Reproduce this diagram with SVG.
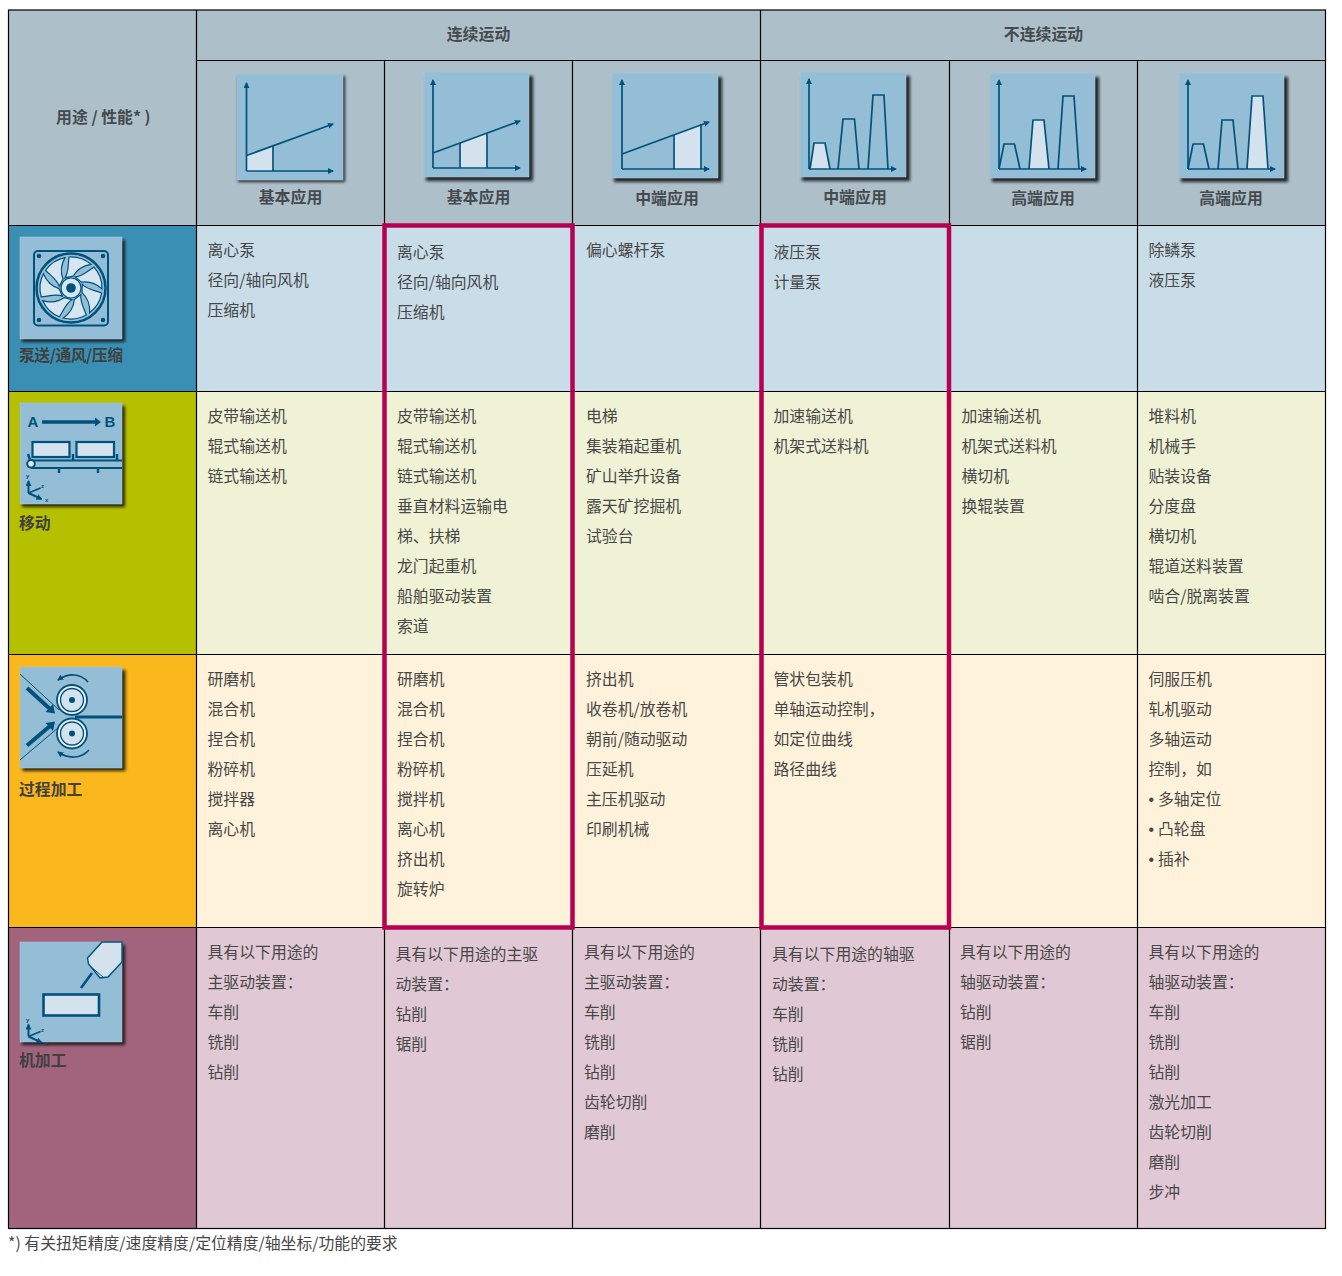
<svg xmlns="http://www.w3.org/2000/svg" xmlns:xlink="http://www.w3.org/1999/xlink" width="1342" height="1276" viewBox="0 0 1342 1276">
<style>
text{font-family:"Noto Sans CJK SC","Noto Sans",sans-serif;font-size:15.85px;fill:#474747}
.h{font-weight:700;font-size:15.9px;fill:#454a4e}
.m{text-anchor:middle}
.l{font-weight:700;fill:#40403f}
.g{fill:#adbfc9}
.gl{stroke:#000;stroke-width:1.2;fill:none}
.ic{fill:#94bdd6;stroke:#a8c8da;stroke-width:.6}
.sh{fill:#111;filter:url(#b);opacity:.85}
.a{fill:none;stroke:#00527c;stroke-width:1.7}
.ar{fill:none;stroke:#00527c;stroke-width:1.7;marker-end:url(#ah)}
.f{fill:#d3e2ed;stroke:#f2f7fb;stroke-width:.8}
.t{font-family:"Liberation Sans",sans-serif;font-size:6px;fill:#00527c;font-weight:700}
.big{font-family:"Liberation Sans",sans-serif;font-size:15px;fill:#00527c;font-weight:700;text-anchor:middle}
.d{fill:#00527c}
</style>
<defs>
<filter id="b" x="-20%" y="-20%" width="140%" height="140%"><feGaussianBlur stdDeviation="1.8"/></filter>
<marker id="ah" markerWidth="8" markerHeight="8" refX="5" refY="3" orient="auto" markerUnits="userSpaceOnUse"><path d="M0,0L6,3L0,6Z" fill="#00527c"/></marker>
<path id="blade" d="M-6,-10.200C-2,-16-3,-25-2,-31A31,31 0 0 1 20,-23.700C10,-22 5,-17 2,-11.800Z" fill="#d6e6f0" stroke="#00527c" stroke-width="1.200"/>
<g id="axes3"><path class="ar" style="stroke-width:2" d="M0,0V-12"/><path class="ar" style="stroke-width:2" d="M0,0L13,6"/><path class="a" d="M0,0L12,-5"/></g>
</defs>
<rect width="1342" height="1276" fill="#fff"/>

<g id="fills">
<rect class="g" x="8.500" y="10" width="1317" height="215.500"/>
<rect x="8.500" y="225.500" width="188" height="166" fill="#3a90b4"/>
<rect x="196.500" y="225.500" width="1129" height="166" fill="#c9dde9"/>
<rect x="8.500" y="391.500" width="188" height="263" fill="#b5c000"/>
<rect x="196.500" y="391.500" width="1129" height="263" fill="#eff2d5"/>
<rect x="8.500" y="654.500" width="188" height="273" fill="#fab81c"/>
<rect x="196.500" y="654.500" width="1129" height="273" fill="#fff2da"/>
<rect x="8.500" y="927.500" width="188" height="301" fill="#a2637d"/>
<rect x="196.500" y="927.500" width="1129" height="301" fill="#e0c9d4"/>
</g>
<g id="grid" class="gl">
<rect x="8.500" y="10" width="1317" height="1218.500"/>
<path d="M196.500,10V1228.500M384.500,60.500V1228.500M572.500,60.500V1228.500M760.500,10V1228.500M949.500,60.500V1228.500M1137.500,60.500V1228.500"/>
<path d="M196.500,60.500H1325.500M8.500,225.500H1325.500M8.500,391.500H1325.500M8.500,654.500H1325.500M8.500,927.500H1325.500"/>
</g>

<g id="headers">
<text class="h m" x="478.500" y="40">连续运动</text>
<text class="h m" x="1043.500" y="40">不连续运动</text>
<text class="h" x="56" y="123">用途 / 性能* )</text>
</g>

<g id="chart-1">
<rect class="sh" x="238" y="76" width="107" height="106"/>
<rect class="ic" x="237" y="74" width="106" height="106"/>
<path class="f" d="M247,155.500L273,146V170.500H247Z"/>
<path class="a" d="M273,146V171"/>
<path class="ar" d="M246.500,171V83"/><path class="ar" d="M246.500,171H333"/><path class="ar" d="M246.500,155.500L333,124"/>
<text class="h m" x="290.500" y="203">基本应用</text>
</g>
<g id="chart-2">
<rect class="sh" x="426" y="76" width="107" height="105"/>
<rect class="ic" x="424" y="72" width="105" height="105"/>
<path class="f" d="M460,143L487,134V168H460Z"/>
<path class="a" d="M460,143V168M487,134V168"/>
<path class="ar" d="M433,168V80"/><path class="ar" d="M433,168H520"/><path class="ar" d="M433,153L520,121"/>
<text class="h m" x="478.500" y="203">基本应用</text>
</g>
<g id="chart-3">
<rect class="sh" x="614" y="77" width="108" height="105"/>
<rect class="ic" x="612" y="73" width="106" height="105"/>
<path class="f" d="M674,135L701,125V169H674Z"/>
<path class="a" d="M674,135V169M701,124V169"/>
<path class="ar" d="M622,169V80"/><path class="ar" d="M622,169H709"/><path class="ar" d="M622,154L709,122"/>
<text class="h m" x="667" y="204">中端应用</text>
</g>
<g id="chart-4">
<rect class="sh" x="802" y="76" width="108" height="105"/>
<rect class="ic" x="800" y="72" width="106" height="105"/>
<path class="f" d="M810,169L814,143H825L830,169Z"/>
<path class="a" d="M810,169L814,143H825L830,169M838,169L843,119H854.500L859,169M868,169L873,95H884L888,169"/>
<path class="ar" d="M809,169V79"/><path class="ar" d="M809,169H896"/>
<text class="h m" x="855" y="203">中端应用</text>
</g>
<g id="chart-5">
<rect class="sh" x="992" y="77" width="107" height="105"/>
<rect class="ic" x="990" y="73" width="105" height="105"/>
<path class="f" d="M1029,169L1033,120H1044L1049,169Z"/>
<path class="a" d="M999,169L1004,144H1014.500L1020,169M1029,169L1033,120H1044L1049,169M1058,169L1063,96H1074L1079,169"/>
<path class="ar" d="M999,169V80"/><path class="ar" d="M999,169H1086"/>
<text class="h m" x="1043" y="204">高端应用</text>
</g>
<g id="chart-6">
<rect class="sh" x="1181" y="77" width="107" height="105"/>
<rect class="ic" x="1179" y="73" width="105" height="105"/>
<path class="f" d="M1248,169L1252,96H1263L1268,169Z"/>
<path class="a" d="M1188,169L1193,144H1203.500L1209,169M1218,169L1222,120H1233L1238,169M1247,169L1252,96H1263L1268,169"/>
<path class="ar" d="M1188,169V80"/><path class="ar" d="M1188,169H1275"/>
<text class="h m" x="1231" y="204">高端应用</text>
</g>

<g id="row-pump">
<rect class="sh" x="22" y="240" width="103" height="102"/>
<rect class="ic" x="20" y="237" width="102" height="102"/>
<rect x="34" y="251" width="74" height="74.500" rx="4" fill="none" stroke="#00527c" stroke-width="2"/>
<circle class="d" cx="39" cy="256" r="2.300"/><circle class="d" cx="103" cy="256" r="2.300"/><circle class="d" cx="39" cy="320" r="2.300"/><circle class="d" cx="103" cy="320" r="2.300"/>
<circle cx="71" cy="288" r="34.500" fill="#94bdd6" stroke="#00527c" stroke-width="2.500"/>
<g transform="translate(71,288)">
<use xlink:href="#blade"/><use xlink:href="#blade" transform="rotate(51.430)"/><use xlink:href="#blade" transform="rotate(102.860)"/><use xlink:href="#blade" transform="rotate(154.290)"/><use xlink:href="#blade" transform="rotate(205.710)"/><use xlink:href="#blade" transform="rotate(257.140)"/><use xlink:href="#blade" transform="rotate(308.570)"/>
</g>
<circle cx="71" cy="288" r="10" fill="#d6e6f0" stroke="#00527c" stroke-width="1.200"/>
<circle class="d" cx="71" cy="288" r="4.800"/>
<text class="l" x="19" y="361" textLength="104" lengthAdjust="spacing">泵送/通风/压缩</text>
</g>

<g id="row-move">
<rect class="sh" x="22" y="406" width="103" height="101"/>
<rect class="ic" x="20" y="403" width="102" height="101"/>
<text class="big" x="33" y="427">A</text><text class="big" x="110" y="427">B</text>
<path d="M42,422H96" stroke="#00527c" stroke-width="3.500"/><path class="d" d="M95,417.500L101,422L95,426.500Z"/>
<rect x="32.500" y="442" width="37" height="15" fill="#d3e2ed" stroke="#00527c" stroke-width="2.200"/>
<rect x="76.500" y="442" width="37.500" height="15" fill="#d3e2ed" stroke="#00527c" stroke-width="2.200"/>
<path d="M31,460.500H122M31,468H122" fill="none" stroke="#00527c" stroke-width="2"/>
<path d="M73,454V460M117,454V460M59,468V473M98,468V473M28,454L30,460" fill="none" stroke="#00527c" stroke-width="2.400"/>
<circle cx="31" cy="463.800" r="3.800" fill="#e8f0f6" stroke="#00527c" stroke-width="2"/>
<g transform="translate(28.500,493)"><use xlink:href="#axes3"/></g>
<text class="t" x="26" y="478">y</text><text class="t" x="41" y="488">z</text><text class="t" x="45" y="502">x</text>
<text class="l" x="19" y="529">移动</text>
</g>

<g id="row-process">
<rect class="sh" x="22.500" y="670" width="103" height="101"/>
<rect class="ic" x="20" y="667" width="102" height="101"/>
<path d="M20,674L59,710M20,760L59,727" stroke="#00527c" stroke-width="1" fill="none"/>
<path d="M75,717H122" stroke="#00527c" stroke-width="3"/>
<path d="M27,688L50,709" stroke="#00527c" stroke-width="4"/><path class="d" d="M45.500,712L55,713.500L53,704Z"/>
<path d="M27,745.500L50,726" stroke="#00527c" stroke-width="4"/><path class="d" d="M45.500,723L55,721.500L53,731Z"/>
<g id="roller-top"><circle cx="72" cy="700" r="15" fill="#eaf2f7" stroke="#00527c" stroke-width="1.800"/><circle cx="72" cy="700" r="11.500" fill="#d3e2ed" stroke="#00527c" stroke-width="1.400"/><circle class="d" cx="72" cy="700" r="3"/></g>
<g id="roller-bottom"><circle cx="72" cy="733.500" r="15" fill="#eaf2f7" stroke="#00527c" stroke-width="1.800"/><circle cx="72" cy="733.500" r="11.500" fill="#d3e2ed" stroke="#00527c" stroke-width="1.400"/><circle class="d" cx="72" cy="733.500" r="3"/></g>
<path class="ar" d="M88,682C80,673 68,673 58,680"/>
<path class="ar" d="M89,750C81,759 68,759 58,752"/>
<text class="l" x="19" y="795">过程加工</text>
</g>

<g id="row-machining">
<rect class="sh" x="22" y="945" width="103" height="100"/>
<rect class="ic" x="20" y="942" width="102" height="100"/>
<path d="M81,988L92,973" stroke="#00527c" stroke-width="2.600"/>
<path d="M102,942L87.500,958L88.500,964L100,978L108,977L122,962V942Z" fill="#d3e2ed" stroke="#00527c" stroke-width="1.400"/>
<path d="M90,966L103,977" stroke="#00527c" stroke-width="1"/>
<rect x="43.500" y="994.500" width="55.500" height="21" fill="#d3e2ed" stroke="#00527c" stroke-width="2.600"/>
<g transform="translate(28.500,1036.500)"><use xlink:href="#axes3"/></g>
<text class="t" x="26" y="1022">y</text><text class="t" x="41" y="1032">z</text><text class="t" x="45" y="1046">x</text>
<text class="l" x="19" y="1066">机加工</text>
</g>

<g id="cells-pump">
<text x="207.500" y="256">离心泵</text><text x="207.500" y="286">径向/轴向风机</text><text x="207.500" y="316">压缩机</text>
<text x="397" y="258">离心泵</text><text x="397" y="288">径向/轴向风机</text><text x="397" y="318">压缩机</text>
<text x="586" y="256">偏心螺杆泵</text>
<text x="773.500" y="258">液压泵</text><text x="773.500" y="288">计量泵</text>
<text x="1148.500" y="256">除鳞泵</text><text x="1148.500" y="286">液压泵</text>
</g>
<g id="cells-move">
<text x="207.500" y="422">皮带输送机</text><text x="207.500" y="452">辊式输送机</text><text x="207.500" y="482">链式输送机</text>
<text x="397" y="422">皮带输送机</text><text x="397" y="452">辊式输送机</text><text x="397" y="482">链式输送机</text><text x="397" y="512">垂直材料运输电</text><text x="397" y="542">梯、扶梯</text><text x="397" y="572">龙门起重机</text><text x="397" y="602">船舶驱动装置</text><text x="397" y="632">索道</text>
<text x="586" y="422">电梯</text><text x="586" y="452">集装箱起重机</text><text x="586" y="482">矿山举升设备</text><text x="586" y="512">露天矿挖掘机</text><text x="586" y="542">试验台</text>
<text x="773.500" y="422">加速输送机</text><text x="773.500" y="452">机架式送料机</text>
<text x="961.500" y="422">加速输送机</text><text x="961.500" y="452">机架式送料机</text><text x="961.500" y="482">横切机</text><text x="961.500" y="512">换辊装置</text>
<text x="1148.500" y="422">堆料机</text><text x="1148.500" y="452">机械手</text><text x="1148.500" y="482">贴装设备</text><text x="1148.500" y="512">分度盘</text><text x="1148.500" y="542">横切机</text><text x="1148.500" y="572">辊道送料装置</text><text x="1148.500" y="602">啮合/脱离装置</text>
</g>
<g id="cells-process">
<text x="207.500" y="685">研磨机</text><text x="207.500" y="715">混合机</text><text x="207.500" y="745">捏合机</text><text x="207.500" y="775">粉碎机</text><text x="207.500" y="805">搅拌器</text><text x="207.500" y="835">离心机</text>
<text x="397" y="685">研磨机</text><text x="397" y="715">混合机</text><text x="397" y="745">捏合机</text><text x="397" y="775">粉碎机</text><text x="397" y="805">搅拌机</text><text x="397" y="835">离心机</text><text x="397" y="865">挤出机</text><text x="397" y="895">旋转炉</text>
<text x="586" y="685">挤出机</text><text x="586" y="715">收卷机/放卷机</text><text x="586" y="745">朝前/随动驱动</text><text x="586" y="775">压延机</text><text x="586" y="805">主压机驱动</text><text x="586" y="835">印刷机械</text>
<text x="773.500" y="685">管状包装机</text><text x="773.500" y="715">单轴运动控制，</text><text x="773.500" y="745">如定位曲线</text><text x="773.500" y="775">路径曲线</text>
<text x="1148.500" y="685">伺服压机</text><text x="1148.500" y="715">轧机驱动</text><text x="1148.500" y="745">多轴运动</text><text x="1148.500" y="775">控制，如</text>
<text x="1148.500" y="805" style="font-family:'Liberation Sans',sans-serif">•</text><text x="1158" y="805">多轴定位</text>
<text x="1148.500" y="835" style="font-family:'Liberation Sans',sans-serif">•</text><text x="1158" y="835">凸轮盘</text>
<text x="1148.500" y="865" style="font-family:'Liberation Sans',sans-serif">•</text><text x="1158" y="865">插补</text>
</g>
<g id="cells-machining">
<text x="207.500" y="958">具有以下用途的</text><text x="207.500" y="988">主驱动装置：</text><text x="207.500" y="1018">车削</text><text x="207.500" y="1048">铣削</text><text x="207.500" y="1078">钻削</text>
<text x="395.500" y="960">具有以下用途的主驱</text><text x="395.500" y="990">动装置：</text><text x="395.500" y="1020">钻削</text><text x="395.500" y="1050">锯削</text>
<text x="584" y="958">具有以下用途的</text><text x="584" y="988">主驱动装置：</text><text x="584" y="1018">车削</text><text x="584" y="1048">铣削</text><text x="584" y="1078">钻削</text><text x="584" y="1108">齿轮切削</text><text x="584" y="1138">磨削</text>
<text x="772" y="960">具有以下用途的轴驱</text><text x="772" y="990">动装置：</text><text x="772" y="1020">车削</text><text x="772" y="1050">铣削</text><text x="772" y="1080">钻削</text>
<text x="960" y="958">具有以下用途的</text><text x="960" y="988">轴驱动装置：</text><text x="960" y="1018">钻削</text><text x="960" y="1048">锯削</text>
<text x="1148.500" y="958">具有以下用途的</text><text x="1148.500" y="988">轴驱动装置：</text><text x="1148.500" y="1018">车削</text><text x="1148.500" y="1048">铣削</text><text x="1148.500" y="1078">钻削</text><text x="1148.500" y="1108">激光加工</text><text x="1148.500" y="1138">齿轮切削</text><text x="1148.500" y="1168">磨削</text><text x="1148.500" y="1198">步冲</text>
</g>

<g id="highlights" fill="none" stroke="#b80052" stroke-width="4.500">
<rect x="384.500" y="225.500" width="188" height="702"/>
<rect x="761.500" y="225.500" width="187.500" height="702"/>
</g>
<text id="footnote" x="8" y="1249">*) 有关扭矩精度/速度精度/定位精度/轴坐标/功能的要求</text>
</svg>
